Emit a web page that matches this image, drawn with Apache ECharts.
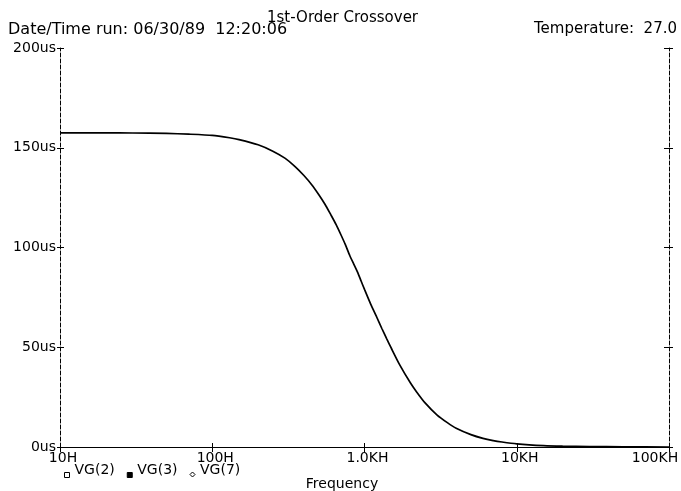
<!DOCTYPE html>
<html>
<head>
<meta charset="utf-8">
<title>1st-Order Crossover</title>
<script src="https://cdn.jsdelivr.net/npm/echarts@6/dist/echarts.min.js"></script>
<style>
  html, body { margin: 0; padding: 0; background: #ffffff; }
  #chart { width: 681px; height: 491px; }
</style>
</head>
<body>
<div id="chart"></div>
<script>
// Group delay (us) of the crossover versus frequency (Hz)
const frequencies = [10, 20, 30, 50, 70, 100, 130, 150, 200, 250, 300, 350, 400, 450, 500, 550,
  600, 650, 700, 750, 800, 850, 900, 950, 1000, 1100, 1200, 1300, 1400, 1500, 1700, 2000, 2200, 2500,
  3000, 3500, 4000, 5000, 6000, 7000, 8000, 10000, 15000, 20000, 30000, 50000, 100000];
const delayUs = [157.5, 157.5, 157.4, 157.2, 156.8, 156.2, 155.0, 154.1, 151.5, 148.3, 144.8, 140.6,
  136.1, 131.5, 126.6, 121.7, 116.5, 111.6, 106.4, 101.3, 96.0, 91.7, 87.7, 83.2, 79.0, 71.5, 65.3,
  59.4, 54.2, 49.5, 41.3, 32.2, 27.6, 22.1, 16.0, 12.2, 9.4, 6.2, 4.3, 3.2, 2.5, 1.6, 0.7, 0.4,
  0.2, 0.1, 0.0];

const seriesNames = ['VG(2)', 'VG(3)', 'VG(7)'];
const xTickLabels = ['10H', '100H', '1.0KH', '10KH', '100KH'];
const yTickLabels = ['0us', '50us', '100us', '150us', '200us'];

const FONT = 'DejaVu Sans';
const INK = '#000000';
const dashed = { color: INK, width: 1, type: [4, 2] };
const solid = { color: INK, width: 1, type: 'solid' };

// Legend markers sit low beside their text: the leading moveTo widens the
// icon box upward so the drawn shape lands in its lower part.
const ICON_SQUARE = 'path://M0,0M0,10L5,10L5,15L0,15Z';
const ICON_DIAMOND = 'path://M0,0M2.5,9.5L5,12L2.5,14.5L0,12ZM5,15';

function logAxis(extra) {
  return Object.assign({
    type: 'log', logBase: 10, min: 10, max: 100000,
    axisLine: { show: false },
    axisTick: { show: false },
    axisLabel: { show: false },
    splitLine: { show: false },
    minorTick: { show: false }
  }, extra);
}
function valAxis(extra) {
  return Object.assign({
    type: 'value', min: 0, max: 200, interval: 50,
    axisLine: { show: false },
    axisTick: { show: false },
    axisLabel: { show: false },
    splitLine: { show: false }
  }, extra);
}
function headText(size) {
  return { fontFamily: FONT, fontSize: size, fontWeight: 'normal', color: INK };
}

const chart = echarts.init(document.getElementById('chart'), null, { renderer: 'canvas' });

chart.setOption({
  backgroundColor: '#ffffff',
  animation: false,
  textStyle: { fontFamily: FONT, color: INK },
  title: [
    { text: '1st-Order Crossover', left: 267, top: 11, padding: 0, textStyle: headText(15) },
    { text: 'Date/Time run: 06/30/89  12:20:06', left: 8, top: 22, padding: 0, textStyle: headText(16) },
    { text: 'Temperature:  27.0', right: 4, top: 22, padding: 0, textStyle: headText(15) }
  ],
  legend: {
    left: 64, top: 462, padding: 0,
    itemWidth: 5, itemHeight: 15, itemGap: 12,
    selectedMode: false,
    textStyle: { fontFamily: FONT, fontSize: 14, color: INK },
    data: [
      { name: seriesNames[0], icon: ICON_SQUARE, itemStyle: { color: '#ffffff', borderColor: INK, borderWidth: 1 } },
      { name: seriesNames[1], icon: ICON_SQUARE, itemStyle: { color: INK, borderColor: INK, borderWidth: 1 } },
      { name: seriesNames[2], icon: ICON_DIAMOND, itemStyle: { color: '#ffffff', borderColor: INK, borderWidth: 1 } }
    ]
  },
  grid: { left: 60, right: 12, top: 48, bottom: 44, containLabel: false, outerBoundsMode: 'none' },
  xAxis: [
    logAxis({
      position: 'bottom',
      name: 'Frequency', nameLocation: 'middle', nameGap: 30,
      nameTextStyle: { fontFamily: FONT, fontSize: 14, color: INK, padding: [0, 45, 0, 0] },
      axisLine: { show: true, lineStyle: solid },
      axisTick: { show: true, inside: true, length: 4, lineStyle: solid },
      axisLabel: {
        show: true, margin: 4, color: INK, fontFamily: FONT, fontSize: 14,
        formatter: function (v) {
          const i = Math.round(Math.log10(v)) - 1;
          const t = xTickLabels[i];
          return i === xTickLabels.length - 1 ? '{last|' + t + '}' : '{std|' + t + '}';
        },
        rich: {
          std: { fontFamily: FONT, fontSize: 14, color: INK, padding: [0, 0, 0, 6] },
          last: { fontFamily: FONT, fontSize: 14, color: INK, padding: [0, 28, 0, 0] }
        }
      }
    }),
    logAxis({ position: 'bottom', axisTick: { show: true, inside: false, length: 3, lineStyle: solid } }),
    logAxis({ position: 'top', axisLine: { show: true, lineStyle: dashed },
      axisTick: { show: true, inside: true, length: 5, lineStyle: solid } }),
    logAxis({ position: 'top', axisTick: { show: true, inside: false, length: 3, lineStyle: solid } })
  ],
  yAxis: [
    valAxis({
      position: 'left',
      axisLine: { show: true, lineStyle: dashed },
      axisTick: { show: true, inside: true, length: 4, lineStyle: solid },
      axisLabel: {
        show: true, margin: 4, color: INK, fontFamily: FONT, fontSize: 14,
        padding: [0, 0, 7, 0],
        formatter: function (v) { return yTickLabels[Math.round(v / 50)]; }
      }
    }),
    valAxis({ position: 'left', axisTick: { show: true, inside: false, length: 3, lineStyle: solid } }),
    valAxis({ position: 'right', axisLine: { show: true, lineStyle: dashed },
      axisTick: { show: true, inside: true, length: 5, lineStyle: solid } }),
    valAxis({ position: 'right', axisTick: { show: true, inside: false, length: 4, lineStyle: solid } })
  ],
  series: [
    {
      name: seriesNames[0], type: 'line', xAxisIndex: 0, yAxisIndex: 0,
      data: frequencies.map((f, i) => [f, delayUs[i]]),
      smooth: 0.2, showSymbol: false, symbol: 'none',
      lineStyle: { color: INK, width: 1.7 },
      itemStyle: { color: INK }
    },
    { name: seriesNames[1], type: 'line', data: [], itemStyle: { color: INK } },
    { name: seriesNames[2], type: 'line', data: [], itemStyle: { color: INK } }
  ]
});
</script>
</body>
</html>
